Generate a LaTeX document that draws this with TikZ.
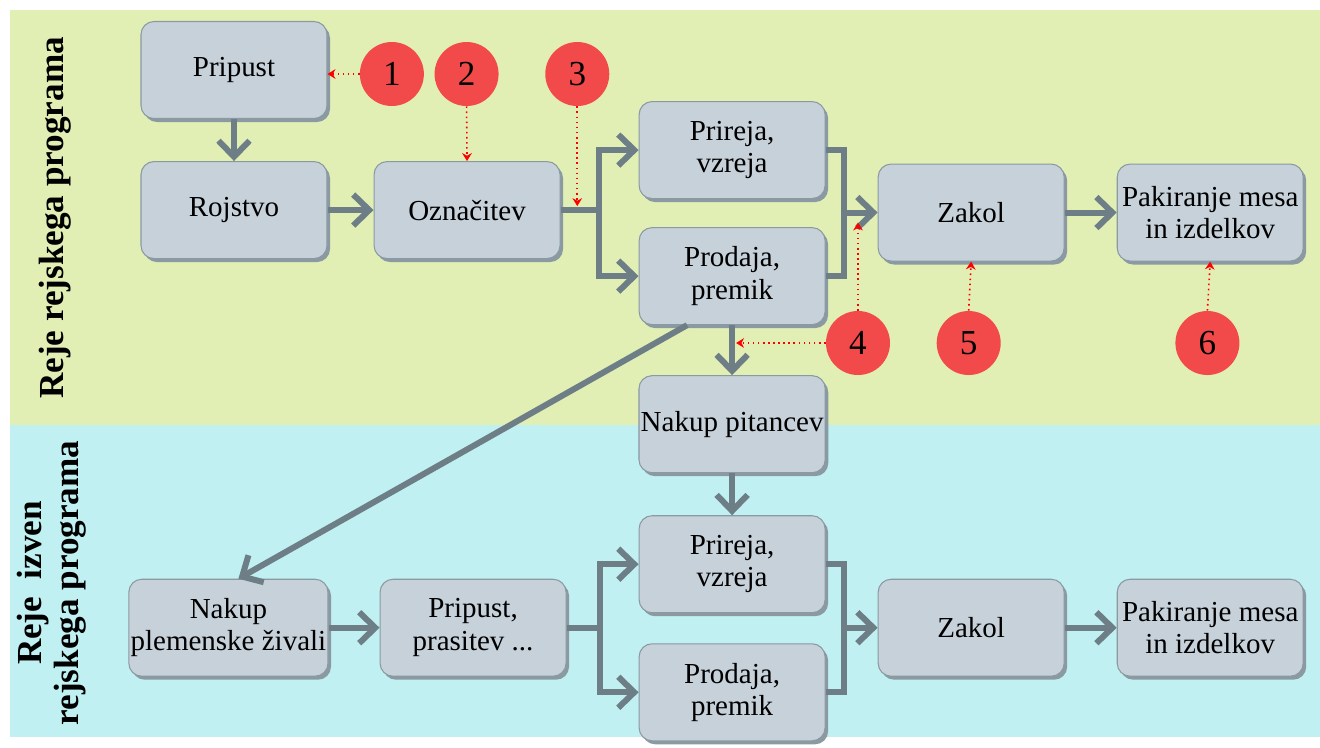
\documentclass[tikz,border=0pt]{standalone}
\usepackage{fontspec}
\setmainfont{Liberation Serif}
\usetikzlibrary{positioning, arrows.meta, shadows}
\definecolor{bandgreen}{HTML}{E2EFB4}
\definecolor{bandcyan}{HTML}{C0F0F2}
\definecolor{boxfill}{HTML}{C6D1DA}
\definecolor{boxline}{HTML}{8A99A2}
\definecolor{flowgray}{HTML}{6D7E87}
\definecolor{markred}{HTML}{F24A4A}
\tikzstyle{process} = [rectangle, rounded corners=0.26cm, minimum width=3.72cm, minimum height=1.94cm, inner sep=1pt, text centered, align=center, draw=boxline, line width=0.6pt, fill=boxfill, drop shadow={shadow xshift=0.06cm, shadow yshift=-0.07cm, fill=boxline, opacity=1}, font=\fontsize{16.5}{18.5}\selectfont]
\tikzstyle{marker} = [circle, minimum size=1.28cm, inner sep=0pt, fill=markred, font=\fontsize{20}{20}\selectfont]
\tikzstyle{sidelabel} = [rotate=90, align=center, font=\fontsize{20}{21}\selectfont\bfseries]
\tikzstyle{arrow} = [line width=0.12cm, draw=flowgray, -{Straight Barb[length=0.32cm, width=0.62cm]}]
\tikzstyle{flowline} = [line width=0.12cm, draw=flowgray]
\tikzstyle{hint} = [red, dotted, line width=0.9pt, -{Stealth[length=4.5pt, width=5.5pt]}]

\begin{document}
\begin{tikzpicture}[node distance = 1cm]
\useasboundingbox (0,0) rectangle (26.4,-14.94);
\fill [bandgreen] (0.2,-0.2) rectangle (26.4,-8.5);
\fill [bandcyan] (0.2,-8.5) rectangle (26.4,-14.74);

\node (toplabel) [sidelabel] at (1.1,-4.36) {Reje rejskega programa};
\node (botlabel) [sidelabel] at (1.04,-11.66) {Reje\ \ izven\\rejskega programa};

% rejski program
\node (pripust) [process] at (4.68,-1.40) {Pripust};
\node (rojstvo) [process, below=0.84cm of pripust] {Rojstvo};
\node (oznacitev) [process, right=0.92cm of rojstvo] {Označitev};
\node (prireja) [process, right=1.56cm of oznacitev, yshift=1.2cm] {Prireja,\\vzreja};
\node (prodaja) [process, below=0.56cm of prireja] {Prodaja,\\premik};
\node (zakol) [process, right=1.04cm of prireja, yshift=-1.25cm] {Zakol};
\node (pakiranje) [process, right=1.04cm of zakol] {Pakiranje mesa\\in izdelkov};
\node (pitanci) [process, below=1.0cm of prodaja] {Nakup pitancev};

% izven programa
\node (prireja2) [process, below=0.84cm of pitanci] {Prireja,\\vzreja};
\node (prodaja2) [process, below=0.6cm of prireja2] {Prodaja,\\premik};
\node (zakol2) [process, right=1.04cm of prireja2, yshift=-1.27cm] {Zakol};
\node (pakiranje2) [process, right=1.04cm of zakol2] {Pakiranje mesa\\in izdelkov};
\node (prasitev) [process, left=1.44cm of prireja2, yshift=-1.27cm] {Pripust,\\prasitev ...};
\node (plemenske) [process, left=1.02cm of prasitev] {Nakup\\plemenske živali};

% oznake
\node (c1) [marker, right=0.64cm of pripust, yshift=-0.08cm] {1};
\node (c2) [marker, right=0.2cm of c1] {2};
\node (c3) [marker, right=0.92cm of c2] {3};
\node (c4) [marker] at (17.16,-6.86) {4};
\node (c5) [marker, right=0.92cm of c4] {5};
\node (c6) [marker, right=3.48cm of c5] {6};

\coordinate (split) at ([xshift=0.76cm]oznacitev.east);
\coordinate (merge) at ([xshift=0.36cm]prireja.east);
\coordinate (split2) at ([xshift=0.66cm]prasitev.east);
\coordinate (merge2) at ([xshift=0.36cm]prireja2.east);

\draw [arrow] (pripust) -- (rojstvo);
\draw [arrow] (rojstvo) -- (oznacitev);
\draw [flowline] (oznacitev.east) -- (split);
\draw [arrow] (split) |- (prireja.west);
\draw [arrow] (split) |- (prodaja.west);
\draw [flowline] (prireja.east) -- (merge) |- (prodaja.east);
\draw [arrow] (merge |- zakol.west) -- (zakol.west);
\draw [arrow] (zakol) -- (pakiranje);
\draw [arrow] (prodaja) -- (pitanci);
\draw [arrow] ([xshift=-0.9cm]prodaja.south) -- ([xshift=0.2cm]plemenske.north);
\draw [arrow] (pitanci) -- (prireja2);

\draw [arrow] (plemenske) -- (prasitev);
\draw [flowline] (prasitev.east) -- (split2);
\draw [arrow] (split2) |- (prireja2.west);
\draw [arrow] (split2) |- (prodaja2.west);
\draw [flowline] (prireja2.east) -- (merge2) |- (prodaja2.east);
\draw [arrow] (merge2 |- zakol2.west) -- (zakol2.west);
\draw [arrow] (zakol2) -- (pakiranje2);

\draw [hint] (c1.west) -- (c1.west -| pripust.east);
\draw [hint] (c2.south) -- (oznacitev.north);
\draw [hint] (c3.south) -- ([yshift=0.08cm]c3.south |- oznacitev.east);
\draw [hint] (c4.north) -- ([yshift=-0.2cm]c4.north |- zakol.west);
\draw [hint] (c4.west) -- ([xshift=0.08cm]c4.west -| pitanci.north);
\draw [hint] (c5.north) -- (zakol.south);
\draw [hint] (c6.north) -- (pakiranje.south);
\end{tikzpicture}
\end{document}
